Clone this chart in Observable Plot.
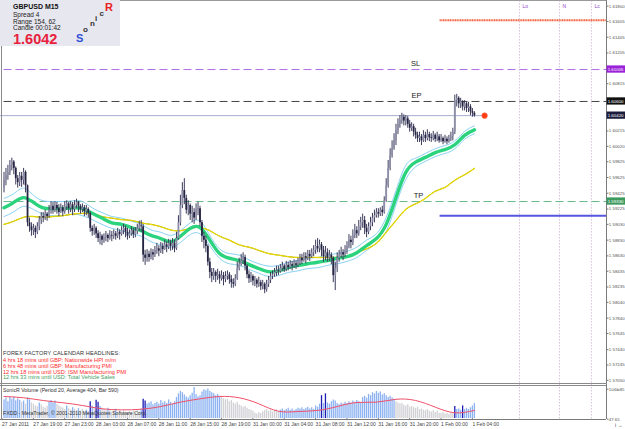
<!DOCTYPE html>
<html><head><meta charset="utf-8">
<script src="https://cdn.jsdelivr.net/npm/d3@7"></script>
<script src="https://cdn.jsdelivr.net/npm/@observablehq/plot@0.6"></script>
<style>
body{margin:0;background:#fff;}
#wrap{position:relative;width:625px;height:429px;overflow:hidden;font-family:"Liberation Sans",Arial,sans-serif;background:#fff;}
#wrap svg{position:absolute;left:0;overflow:visible;}
.t{position:absolute;white-space:nowrap;line-height:1;z-index:5;}
.ln{position:absolute;z-index:4;}
</style></head><body><div id="wrap"></div>
<script>
// ---- price data (M15 bars, 27 Jan 2011 15:00 -> 1 Feb 2011 04:00) ----
const firstOpen = 1.5950;
const close = [
1.5960,1.5966,1.5970,1.5979,1.5983,1.5975,1.5962,1.5957,1.5965,1.5960,
1.5970,1.5953,1.5906,1.5901,1.5896,1.5899,1.5894,1.5901,1.5909,1.5914,
1.5912,1.5917,1.5914,1.5922,1.5927,1.5922,1.5928,1.5924,1.5919,1.5925,
1.5920,1.5927,1.5930,1.5924,1.5929,1.5923,1.5928,1.5932,1.5927,1.5923,
1.5925,1.5920,1.5923,1.5918,1.5899,1.5895,1.5899,1.5892,1.5886,1.5889,
1.5884,1.5887,1.5890,1.5886,1.5890,1.5889,1.5892,1.5889,1.5894,1.5891,
1.5896,1.5899,1.5894,1.5889,1.5892,1.5896,1.5891,1.5895,1.5899,1.5902,
1.5901,1.5865,1.5861,1.5866,1.5862,1.5868,1.5865,1.5871,1.5873,1.5870,
1.5876,1.5872,1.5878,1.5875,1.5880,1.5876,1.5880,1.5873,1.5886,1.5906,
1.5928,1.5947,1.5937,1.5922,1.5928,1.5917,1.5919,1.5912,1.5922,1.5924,
1.5906,1.5889,1.5884,1.5876,1.5856,1.5843,1.5838,1.5843,1.5838,1.5840,
1.5835,1.5839,1.5834,1.5838,1.5840,1.5834,1.5830,1.5828,1.5835,1.5848,
1.5853,1.5858,1.5862,1.5851,1.5840,1.5835,1.5838,1.5832,1.5833,1.5828,
1.5830,1.5825,1.5828,1.5821,1.5828,1.5833,1.5838,1.5840,1.5843,1.5845,
1.5844,1.5848,1.5851,1.5847,1.5852,1.5849,1.5853,1.5851,1.5854,1.5852,
1.5856,1.5861,1.5858,1.5863,1.5861,1.5866,1.5863,1.5868,1.5871,1.5876,
1.5873,1.5878,1.5871,1.5863,1.5868,1.5861,1.5865,1.5861,1.5839,1.5848,
1.5861,1.5865,1.5868,1.5865,1.5871,1.5876,1.5884,1.5881,1.5890,1.5896,
1.5892,1.5901,1.5906,1.5909,1.5899,1.5894,1.5901,1.5906,1.5912,1.5915,
1.5919,1.5917,1.5922,1.5919,1.5934,1.5953,1.5975,1.5991,1.6000,1.6010,
1.6023,1.6031,1.6036,1.6040,1.6035,1.6038,1.6031,1.6026,1.6028,1.6021,
1.6017,1.6013,1.6015,1.6010,1.6017,1.6013,1.6018,1.6014,1.6013,1.6017,
1.6012,1.6015,1.6010,1.6013,1.6009,1.6012,1.6009,1.6013,1.6015,1.6021,
1.6061,1.6064,1.6057,1.6060,1.6053,1.6057,1.6051,1.6053,1.6047,1.6045,
1.6042];
const high = [
1.5970,1.5975,1.5979,1.5985,1.5988,1.5985,1.5977,1.5966,1.5970,1.5970,
1.5975,1.5972,1.5954,1.5912,1.5906,1.5904,1.5902,1.5906,1.5914,1.5919,
1.5919,1.5922,1.5919,1.5928,1.5933,1.5932,1.5933,1.5932,1.5929,1.5930,
1.5928,1.5933,1.5934,1.5932,1.5933,1.5932,1.5934,1.5936,1.5933,1.5929,
1.5930,1.5928,1.5928,1.5925,1.5920,1.5902,1.5904,1.5901,1.5896,1.5894,
1.5891,1.5892,1.5895,1.5892,1.5896,1.5895,1.5897,1.5895,1.5899,1.5897,
1.5901,1.5904,1.5902,1.5899,1.5897,1.5901,1.5899,1.5900,1.5904,1.5908,
1.5909,1.5904,1.5871,1.5872,1.5870,1.5873,1.5872,1.5876,1.5880,1.5877,
1.5881,1.5880,1.5884,1.5882,1.5885,1.5884,1.5886,1.5884,1.5894,1.5915,
1.5941,1.5957,1.5962,1.5941,1.5934,1.5930,1.5927,1.5924,1.5930,1.5932,
1.5927,1.5909,1.5894,1.5889,1.5878,1.5861,1.5848,1.5848,1.5845,1.5847,
1.5844,1.5845,1.5843,1.5844,1.5845,1.5843,1.5839,1.5835,1.5840,1.5856,
1.5861,1.5866,1.5868,1.5865,1.5853,1.5845,1.5843,1.5840,1.5838,1.5835,
1.5837,1.5833,1.5833,1.5830,1.5833,1.5838,1.5843,1.5845,1.5848,1.5851,
1.5851,1.5853,1.5856,1.5853,1.5857,1.5856,1.5858,1.5857,1.5859,1.5858,
1.5861,1.5866,1.5866,1.5868,1.5868,1.5871,1.5871,1.5873,1.5877,1.5884,
1.5886,1.5884,1.5881,1.5876,1.5876,1.5873,1.5871,1.5868,1.5863,1.5856,
1.5868,1.5871,1.5875,1.5872,1.5877,1.5882,1.5891,1.5889,1.5897,1.5904,
1.5901,1.5909,1.5913,1.5917,1.5914,1.5904,1.5906,1.5913,1.5918,1.5922,
1.5924,1.5924,1.5925,1.5927,1.5939,1.5962,1.5985,1.6000,1.6010,1.6019,
1.6031,1.6038,1.6042,1.6045,1.6043,1.6042,1.6041,1.6036,1.6033,1.6031,
1.6026,1.6021,1.6021,1.6018,1.6023,1.6021,1.6024,1.6021,1.6019,1.6022,
1.6019,1.6021,1.6018,1.6018,1.6015,1.6017,1.6015,1.6017,1.6021,1.6026,
1.6068,1.6069,1.6066,1.6064,1.6061,1.6061,1.6059,1.6059,1.6056,1.6051,
1.6047];
const low = [
1.5944,1.5953,1.5960,1.5966,1.5972,1.5967,1.5954,1.5950,1.5952,1.5951,
1.5954,1.5944,1.5901,1.5894,1.5889,1.5890,1.5886,1.5891,1.5896,1.5904,
1.5906,1.5909,1.5908,1.5912,1.5917,1.5917,1.5919,1.5917,1.5914,1.5918,
1.5914,1.5917,1.5922,1.5917,1.5919,1.5915,1.5919,1.5924,1.5919,1.5917,
1.5919,1.5914,1.5915,1.5912,1.5894,1.5889,1.5890,1.5886,1.5881,1.5878,
1.5877,1.5880,1.5882,1.5881,1.5884,1.5882,1.5885,1.5884,1.5886,1.5884,
1.5889,1.5891,1.5887,1.5884,1.5886,1.5889,1.5886,1.5887,1.5891,1.5895,
1.5894,1.5856,1.5852,1.5856,1.5856,1.5859,1.5858,1.5862,1.5866,1.5863,
1.5867,1.5866,1.5871,1.5868,1.5872,1.5870,1.5871,1.5868,1.5871,1.5884,
1.5902,1.5924,1.5929,1.5917,1.5915,1.5909,1.5906,1.5904,1.5909,1.5915,
1.5901,1.5881,1.5873,1.5868,1.5851,1.5835,1.5830,1.5833,1.5830,1.5833,
1.5828,1.5832,1.5826,1.5830,1.5833,1.5828,1.5823,1.5823,1.5825,1.5833,
1.5845,1.5851,1.5853,1.5845,1.5835,1.5829,1.5830,1.5826,1.5825,1.5823,
1.5824,1.5820,1.5821,1.5816,1.5818,1.5824,1.5829,1.5834,1.5837,1.5838,
1.5839,1.5842,1.5844,1.5843,1.5844,1.5845,1.5847,1.5845,1.5848,1.5847,
1.5849,1.5852,1.5853,1.5856,1.5854,1.5858,1.5857,1.5861,1.5863,1.5866,
1.5868,1.5868,1.5863,1.5856,1.5858,1.5856,1.5857,1.5853,1.5830,1.5820,
1.5843,1.5856,1.5861,1.5858,1.5862,1.5866,1.5873,1.5873,1.5877,1.5886,
1.5886,1.5889,1.5896,1.5899,1.5891,1.5887,1.5891,1.5896,1.5901,1.5906,
1.5912,1.5912,1.5914,1.5914,1.5917,1.5932,1.5950,1.5972,1.5988,1.5998,
1.6004,1.6018,1.6026,1.6031,1.6029,1.6029,1.6026,1.6021,1.6022,1.6015,
1.6012,1.6008,1.6008,1.6004,1.6008,1.6008,1.6010,1.6009,1.6008,1.6010,
1.6008,1.6009,1.6007,1.6008,1.6005,1.6007,1.6005,1.6007,1.6009,1.6010,
1.6018,1.6053,1.6051,1.6051,1.6048,1.6048,1.6046,1.6046,1.6042,1.6040,
1.6040];

// ---- indicator lines, sampled every 5 bars ----
const maIdx = [0,5,10,15,20,25,30,35,40,45,50,55,60,65,70,75,80,85,90,95,100,105,110,115,120,125,130,135,140,145,150,155,160,165,170,175,180,185,190,195,200,205,210,215,220,225,230,235,240];
const maGreen = [1.5925,1.5932,1.5938,1.5932,1.5925,1.5924,1.5924,1.5925,1.5924,1.5918,1.5912,1.5906,1.5904,1.5900,1.5896,1.5890,1.5886,1.5882,1.5889,1.5899,1.5900,1.5884,1.5867,1.5861,1.5858,1.5853,1.5848,1.5844,1.5845,1.5849,1.5852,1.5854,1.5856,1.5858,1.5861,1.5863,1.5868,1.5877,1.5886,1.5904,1.5938,1.5970,1.5983,1.5989,1.5995,1.5999,1.6005,1.6017,1.6024];
const bandUpper = [1.5937,1.5943,1.5950,1.5941,1.5934,1.5933,1.5933,1.5934,1.5933,1.5925,1.5919,1.5914,1.5912,1.5908,1.5904,1.5897,1.5894,1.5890,1.5896,1.5906,1.5908,1.5890,1.5873,1.5867,1.5865,1.5859,1.5854,1.5851,1.5852,1.5856,1.5858,1.5861,1.5862,1.5865,1.5867,1.5870,1.5875,1.5884,1.5892,1.5913,1.5947,1.5979,1.5988,1.5994,1.6000,1.6004,1.6010,1.6022,1.6029];
const bandLower = [1.5914,1.5920,1.5927,1.5923,1.5917,1.5915,1.5915,1.5917,1.5915,1.5910,1.5904,1.5899,1.5896,1.5892,1.5889,1.5882,1.5878,1.5875,1.5881,1.5891,1.5892,1.5877,1.5861,1.5854,1.5852,1.5847,1.5842,1.5838,1.5839,1.5843,1.5845,1.5848,1.5849,1.5852,1.5854,1.5857,1.5862,1.5871,1.5880,1.5895,1.5929,1.5961,1.5977,1.5984,1.5990,1.5994,1.6000,1.6012,1.6019];
const maYellow = [1.5904,1.5908,1.5913,1.5914,1.5913,1.5914,1.5915,1.5917,1.5918,1.5918,1.5914,1.5912,1.5910,1.5909,1.5906,1.5904,1.5901,1.5897,1.5896,1.5899,1.5900,1.5896,1.5889,1.5884,1.5878,1.5875,1.5871,1.5867,1.5865,1.5863,1.5862,1.5862,1.5862,1.5862,1.5862,1.5863,1.5868,1.5873,1.5880,1.5894,1.5909,1.5923,1.5930,1.5937,1.5946,1.5951,1.5960,1.5967,1.5975];

// ---- volume ----
const volume = [
620,680,560,700,640,720,590,660,610,540,580,480,690,620,520,
480,420,390,520,450,380,340,410,560,600,520,580,470,430,380,350,300,420,330,290,360,310,270,330,250,300,220,280,240,
560,420,380,610,540,400,350,
300,260,340,280,220,250,310,200,240,180,260,210,170,230,190,250,200,280,230,320,
640,580,
480,520,560,460,500,540,480,600,520,560,500,620,540,480,560,
700,820,900,860,780,720,680,760,840,1030,800,720,760,
880,960,920,980,900,860,820,760,800,740,
700,660,620,640,560,600,520,480,540,450,420,380,400,340,300,280,240,
180,150,200,170,230,260,300,240,280,220,260,300,240,280,320,260,300,340,280,320,260,300,340,
320,360,300,340,380,320,360,300,420,380,
480,760,500,820,
520,480,560,620,580,500,460,520,480,540,500,560,520,580,540,600,560,500,
700,740,680,800,760,860,820,900,840,880,780,820,760,700,740,680,640,
560,520,480,500,440,420,460,380,400,360,340,380,300,320,280,260,300,240,220,260,200,240,180,160,200,150,170,140,180,160,
400,300,320,280,420,300,340,300,360,420,500];
const volKind = ("bbbbbbbbbgbgbbg"+"gggbggggbbbbgggggbggbggbgggbg"+"dbgddbg"+"ggbgggbggggggggggggb"+"dd"+
 "bbbbbbbbbbbbbbb"+"bbbbbbbbbbbbb"+"bbbbbbbbbb"+"ggggggggggggggggg"+"gggggggggggggbbbbbbbbbb"+"bbbbbbbbbb"+"bdbd"+
 "bbbbbbbbbbbbbbbbbb"+"bbbbbbbbbbbbbbbbb"+"gggggggggggggggggggggggggggggg"+"dbbbdbbbbbb").split("");
const volMaIdx = [0,10,20,30,40,50,60,70,80,90,100,110,120,130,140,150,160,170,180,190,200,210,220,230,240];
const volMa = [733,690,600,525,435,325,290,310,400,545,655,733,690,490,245,235,270,400,534,545,640,600,380,193,270];

// ---- axes / labels ----
// (tick labels hidden behind the level boxes are left out)
const yTicks = [1.61800,1.61605,1.61405,1.61205,1.60815,1.60215,1.60020,1.59825,1.59625,1.59425,1.59225,1.59030,1.58830,1.58630,1.58435,1.58235,1.58040,1.57840,1.57645,1.57440,1.57245,1.57050];
const volTicks = [47.65, 1040.65];
const xTickIdx = [0,16,32,48,64,80,96,112,128,144,160,176,192,208,224,240];
const xTickLabels = ["27 Jan 2011","27 Jan 19:00","27 Jan 23:00","28 Jan 03:00","28 Jan 07:00","28 Jan 11:00","28 Jan 15:00","28 Jan 19:00","31 Jan 00:00","31 Jan 04:00","31 Jan 08:00","31 Jan 12:00","31 Jan 16:00","31 Jan 20:00","1 Feb 00:00","1 Feb 04:00"];
const levelNames = ["SL","EP","TP"];
const levelPrices = [1.61005, 1.60600, 1.59330];
const levelLabelIdx = [210, 210.5, 211.5];
const bidPrice = 1.6042;
const bidEndIdx = 245.2;
const boxPrices = [1.61005, 1.60600, 1.60420, 1.59330];
const boxColors = ["#9a22d8", "#111111", "#1c1c3c", "#3d9a5e"];
const targetHigh = 1.6163, targetLow = 1.5915, targetStartIdx = 222.5;
const sessionIdx = [263.0, 283.4, 299.7];
const sessionLabels = ["Lo","N","Lc"];
const headlines = ["4 hrs 18 mins until GBP: Nationwide HPI m/m","6 hrs 48 mins until GBP: Manufacturing PMI","12 hrs 18 mins until USD: ISM Manufacturing PMI","12 hrs 33 mins until USD: Total Vehicle Sales"];
const headlineColors = ["#ff2a2a","#ff2a2a","#ff2a2a","#3fa060"];

// ---- build ----
const wrap = document.getElementById("wrap");
const XD = [0, 307.4];
const bars = close.map((c, i) => ({i, o: i === 0 ? firstOpen : close[i-1], c, h: high[i], l: low[i]}));
const ser = (arr) => maIdx.map((i, k) => ({i, v: arr[k]}));
const font = "Liberation Sans, Arial, sans-serif";

const main = Plot.plot({
  width: 625, height: 384,
  marginLeft: 3.5, marginRight: 19, marginTop: 6, marginBottom: 3.3,
  x: {domain: XD, axis: null},
  y: {domain: [1.5705, 1.61805], axis: null},
  style: {background: "transparent", fontFamily: font, overflow: "visible"},
  marks: [
    Plot.ruleX(sessionIdx, {y1: 1.6188, y2: 1.5701, stroke: "#d4c2d8", strokeDasharray: "1.5,1.5"}),
    Plot.text(sessionIdx, {x: d => d, y: 1.6181, text: (d, k) => sessionLabels[k], dx: 3, textAnchor: "start", fontSize: 5, fill: "#9048c8"}),
    Plot.ruleY([levelPrices[0]], {stroke: "#b070e4", strokeDasharray: "8,4"}),
    Plot.ruleY([levelPrices[1]], {stroke: "#444", strokeDasharray: "8,4"}),
    Plot.ruleY([levelPrices[2]], {stroke: "#66b888", strokeDasharray: "8,4"}),
    Plot.ruleY([bidPrice], {x1: -1.8, x2: bidEndIdx, stroke: "#a6aed0"}),
    Plot.ruleY([targetHigh], {x1: targetStartIdx, x2: XD[1], stroke: "#f2603e", strokeWidth: 2, strokeDasharray: "1.2,0.5"}),
    Plot.ruleY([targetLow], {x1: targetStartIdx, x2: XD[1], stroke: "#5656e0", strokeWidth: 2}),
    Plot.line(ser(bandUpper), {x: "i", y: "v", stroke: "#8ad2f4", strokeWidth: 1, curve: "natural"}),
    Plot.line(ser(bandLower), {x: "i", y: "v", stroke: "#8ad2f4", strokeWidth: 1, curve: "natural"}),
    Plot.line(ser(maYellow), {x: "i", y: "v", stroke: "#9a8e10", strokeWidth: 1, curve: "natural"}),
    Plot.line(ser(maYellow), {x: "i", y: "v", stroke: "#eadc00", strokeWidth: 1.3, strokeDasharray: "2.5,1.5", curve: "natural"}),
    Plot.line(ser(maGreen), {x: "i", y: "v", stroke: "#2bd37e", strokeWidth: 3.4, curve: "natural"}),
    Plot.ruleX(bars, {x: "i", y1: "l", y2: "h", stroke: "#3c3c5c", strokeWidth: 1}),
    Plot.ruleX(bars, {x: "i", y1: "o", y2: "c", stroke: d => d.c >= d.o ? "#8e8ea8" : "#262644", strokeWidth: 1.8}),
    Plot.dot([bidPrice], {x: bidEndIdx, y: d => d, r: 2.8, fill: "#ff3c10", stroke: "#ff7050", strokeWidth: 0.6}),
    Plot.text(levelNames, {x: (d, k) => levelLabelIdx[k], y: (d, k) => levelPrices[k], text: d => d, dy: -5.5, fontSize: 7.5, fill: "#222"}),
    Plot.ruleX([XD[1]], {y1: 1.6188, y2: 1.5701, stroke: "#7a7a7a"}),
    Plot.axisY(yTicks, {anchor: "right", tickSize: 1.5, tickPadding: 0.8, fontSize: 4.4, dy: -0.8, tickFormat: d => d.toFixed(5), color: "#555", stroke: "#777"}),
    Plot.rect(boxPrices, {x1: XD[1] + 0.3, x2: 317.5, y1: d => d - 0.00046, y2: d => d + 0.00046, fill: (d, k) => boxColors[k]}),
    Plot.text(boxPrices, {x: XD[1] + 0.6, y: d => d, text: d => d.toFixed(5), textAnchor: "start", fontSize: 4.4, fill: "#fff"})
  ]
});
main.style.top = "0px";
wrap.appendChild(main);

const vdata = volume.map((v, i) => ({i, v, k: volKind[i]}));
const vcol = {b: "#8cb2f2", g: "#d2d2d6", d: "#1c1cb4"};
const labelMap = new Map(xTickIdx.map((d, k) => [d, xTickLabels[k]]));
const vol = Plot.plot({
  width: 625, height: 45,
  marginLeft: 3.5, marginRight: 19, marginTop: 2.7, marginBottom: 10.9,
  x: {domain: XD, axis: null},
  y: {domain: [0, 1040.65], axis: null},
  style: {background: "transparent", fontFamily: font, overflow: "visible"},
  marks: [
    Plot.ruleX(sessionIdx, {y1: 1130, y2: -30, stroke: "#d4c2d8", strokeDasharray: "1.5,1.5"}),
    Plot.ruleX(vdata, {x: "i", y1: 0, y2: "v", stroke: d => vcol[d.k], strokeWidth: 1.3}),
    Plot.line(volMaIdx.map((i, k) => ({i, v: volMa[k]})), {x: "i", y: "v", stroke: "#f0506a", strokeWidth: 1, curve: "natural"}),
    Plot.ruleX([XD[1]], {y1: 1130, y2: -30, stroke: "#7a7a7a"}),
    Plot.ruleY([-30], {x1: -2, x2: XD[1], stroke: "#7a7a7a"}),
    Plot.axisY(volTicks, {anchor: "right", tickSize: 1.5, tickPadding: 0.8, fontSize: 4.3, dy: 2, tickFormat: d => d.toFixed(2), color: "#555", stroke: "#777"}),
    Plot.axisX(xTickIdx, {anchor: "bottom", tickSize: 2, tickPadding: 1.5, fontSize: 5, tickFormat: d => labelMap.get(d), textAnchor: "start", dx: -2, color: "#444", stroke: "#777"})
  ]
});
vol.style.top = "384px";
wrap.appendChild(vol);

// ---- chrome & overlay texts ----
function addDiv(cls, style, text) {
  const d = document.createElement("div");
  d.className = cls; d.setAttribute("style", style);
  if (text !== undefined) d.textContent = text;
  wrap.appendChild(d); return d;
}
addDiv("ln", "left:1px;top:0;width:1px;height:420px;background:#8a8a8a;");
addDiv("ln", "left:0;top:0;width:606px;height:1px;background:#9a9a9a;");
addDiv("ln", "left:0;top:383px;width:606px;height:1px;background:#8a8a8a;");
addDiv("ln", "left:0;top:385px;width:606px;height:1px;background:#8a8a8a;");
// info box
addDiv("ln", "left:0;top:0;width:120px;height:46px;background:#e7e7ef;");
addDiv("t", "left:13px;top:3px;font-size:7px;font-weight:bold;color:#111;", "GBPUSD    M15");
addDiv("t", "left:13px;top:12px;font-size:6.5px;color:#222;", "Spread   4");
addDiv("t", "left:13px;top:18.5px;font-size:6.5px;color:#222;", "Range   154, 62");
addDiv("t", "left:13px;top:25px;font-size:6.5px;color:#222;", "Candle   00:01:42");
addDiv("t", "left:13px;top:31.5px;font-size:14.5px;font-weight:bold;color:#e8203c;", "1.6042");
addDiv("t", "left:76px;top:33px;font-size:11px;font-weight:bold;color:#2f4fd8;", "S");
addDiv("t", "left:83px;top:26px;font-size:8px;font-weight:bold;color:#333;", "o");
addDiv("t", "left:90px;top:20px;font-size:8px;font-weight:bold;color:#333;", "n");
addDiv("t", "left:95px;top:15px;font-size:8px;font-weight:bold;color:#333;", "i");
addDiv("t", "left:99.5px;top:10px;font-size:8px;font-weight:bold;color:#333;", "c");
addDiv("t", "left:105px;top:2px;font-size:11px;font-weight:bold;color:#e82020;", "R");
// headlines
addDiv("t", "left:3px;top:350.5px;font-size:5.6px;color:#333;letter-spacing:0.1px;", "FOREX FACTORY CALENDAR  HEADLINES:");
const tops = [358, 363.8, 369.6, 375.4];
headlines.forEach((h, k) => addDiv("t", `left:3px;top:${tops[k]}px;font-size:5.6px;color:${headlineColors[k]};`, h));
addDiv("t", "left:3px;top:388px;font-size:5.2px;color:#333;", "SonicR Volume  (Period 20, Average 404, Bar 590)");
addDiv("t", "left:3px;top:411px;font-size:5.2px;color:#333;", "FXDD - MetaTrader, © 2001-2010 MetaQuotes Software Corp.");
</script></body></html>
